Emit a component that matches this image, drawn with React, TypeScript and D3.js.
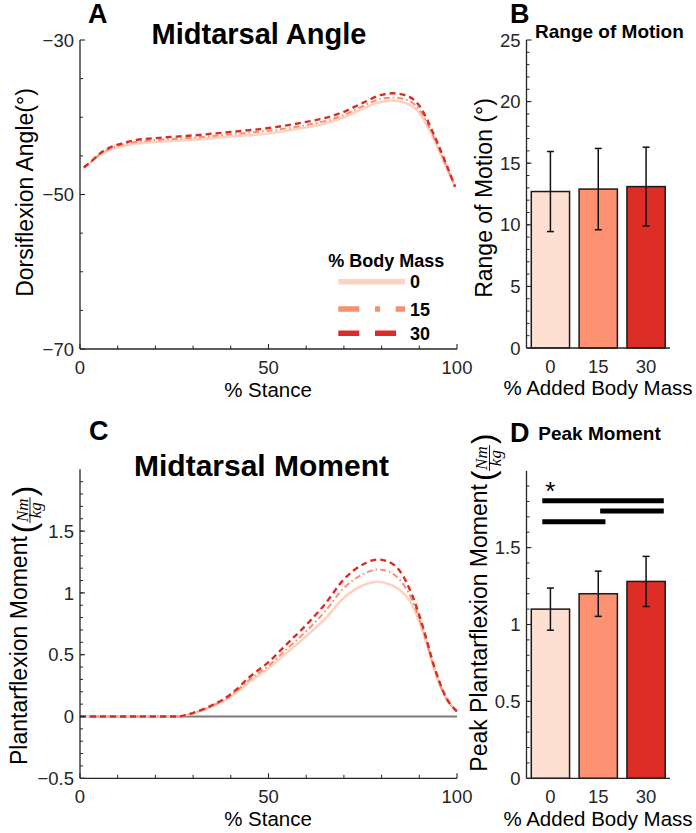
import React from 'react';
import * as d3 from 'd3';

// ---------------- Data ----------------
const massLevels = ['0', '15', '30'];
const lineColors = ['#fcd3c1', '#f8906f', '#d92d27'];
const barColors = ['#fee0d2', '#fc9272', '#de2d26'];

// Panel A: midtarsal angle (deg) vs % stance
const stanceAngle = [1, 3, 5, 8, 10, 15, 20, 30, 40, 50, 60, 65, 70, 75, 80, 83, 86, 90, 94, 97, 99.5];
const angle0 = [-46.5, -45.8, -45.0, -44.2, -43.9, -43.4, -43.2, -42.9, -42.5, -42.1, -41.3, -40.8, -40.0, -38.9, -38.0, -37.85, -38.1, -39.4, -43.0, -46.3, -49.0];
const angle15 = [-46.5, -45.75, -44.9, -44.05, -43.7, -43.2, -42.95, -42.65, -42.2, -41.75, -41.0, -40.5, -39.7, -38.55, -37.6, -37.45, -37.65, -39.0, -42.7, -46.1, -49.0];
const angle30 = [-46.5, -45.7, -44.8, -43.9, -43.55, -42.95, -42.7, -42.35, -41.9, -41.4, -40.6, -40.1, -39.3, -38.15, -37.1, -36.9, -37.1, -38.5, -42.4, -45.9, -49.0];

// Panel C: midtarsal moment (Nm/kg) vs % stance
const stanceMoment = [0, 10, 20, 26, 30, 35, 40, 45, 50, 55, 60, 65, 70, 75, 79, 82, 85, 88, 91, 94, 97, 100];
const moment0 = [0, 0, 0, 0, 0.025, 0.08, 0.16, 0.28, 0.39, 0.52, 0.65, 0.79, 0.96, 1.06, 1.09, 1.07, 1.02, 0.91, 0.68, 0.38, 0.15, 0.04];
const moment15 = [0, 0, 0, 0, 0.028, 0.085, 0.17, 0.3, 0.41, 0.55, 0.69, 0.85, 1.04, 1.15, 1.19, 1.17, 1.1, 0.95, 0.7, 0.39, 0.155, 0.04];
const moment30 = [0, 0, 0, 0, 0.03, 0.09, 0.18, 0.32, 0.44, 0.59, 0.74, 0.91, 1.11, 1.23, 1.27, 1.25, 1.17, 0.99, 0.72, 0.4, 0.16, 0.04];

// Panel B: range of motion (deg)
const romMean = [12.7, 12.9, 13.1];
const romSD = [3.25, 3.3, 3.2];

// Panel D: peak plantarflexion moment (Nm/kg)
const peakMean = [1.1, 1.2, 1.28];
const peakSD = [0.137, 0.147, 0.163];
// significance bars: [from group pos, to group pos, height]
const sigFrom = [0.83, 2.04, 0.83];
const sigTo = [3.37, 3.37, 2.15];
const sigLevel = [1.805, 1.738, 1.668];

// ticks
const stanceTicks = [0, 50, 100];
const stanceMinor = [10, 20, 30, 40, 60, 70, 80, 90];
const angleTicks = [-70, -50, -30];
const angleMinor = [-65, -60, -55, -45, -40, -35];
const romTicks = [0, 5, 10, 15, 20, 25];
const romMinor = d3.range(1, 25, 1);
const momentTicks = [-0.5, 0, 0.5, 1, 1.5];
const momentMinor = d3.range(-4, 20, 1).map((v) => v / 10);
const peakTicks = [0, 0.5, 1, 1.5];
const peakMinor = d3.range(1, 20, 1).map((v) => v / 10);

// ---------------- Styling ----------------
const FONT = '"Liberation Sans", Arial, Helvetica, sans-serif';
const MATH = '"Liberation Serif", "Times New Roman", serif';
const AX = '#262626';
const TICK_FS = 18.5;
const dashStyles = [undefined, '6,3,1.6,3', '6,4'];
const lineWidths = [2.6, 2, 2.4];
const legendDash = [undefined, '21,15.7,5,15.7', '21,15.7'];

const fmt = (v: number) => (v < 0 ? '\u2212' + String(Math.abs(v)) : String(v));

function YAxis({ scale, x, major, minor }: any) {
  const [y0, y1] = scale.range();
  return (
    <g>
      <line x1={x} x2={x} y1={y0} y2={y1} stroke={AX} strokeWidth={1.3} />
      {minor.map((v: number) => (
        <line key={'m' + v} x1={x} x2={x + 3} y1={scale(v)} y2={scale(v)} stroke={AX} strokeWidth={1} />
      ))}
      {major.map((v: number) => (
        <g key={'M' + v}>
          <line x1={x} x2={x + 5} y1={scale(v)} y2={scale(v)} stroke={AX} strokeWidth={1.1} />
          <text x={x - 6} y={scale(v)} dy="0.36em" textAnchor="end" fontSize={TICK_FS} fill={AX}>
            {fmt(v)}
          </text>
        </g>
      ))}
    </g>
  );
}

function XAxis({ scale, y, major, minor, x0, x1 }: any) {
  return (
    <g>
      <line x1={x0} x2={x1} y1={y} y2={y} stroke={AX} strokeWidth={1.3} />
      {minor.map((v: number) => (
        <line key={'m' + v} x1={scale(v)} x2={scale(v)} y1={y} y2={y - 3.5} stroke={AX} strokeWidth={1} />
      ))}
      {major.map((v: number) => (
        <g key={'M' + v}>
          <line x1={scale(v)} x2={scale(v)} y1={y} y2={y - 5} stroke={AX} strokeWidth={1.1} />
          <text x={scale(v)} y={y + 24.5} textAnchor="middle" fontSize={TICK_FS} fill={AX}>
            {v}
          </text>
        </g>
      ))}
    </g>
  );
}

function FracLabel({ x, y, text, textLen }: any) {
  // rotated label ending with (Nm / kg)
  const p = textLen;
  return (
    <g transform={`translate(${x},${y}) rotate(-90)`}>
      <text x={0} y={0} fontSize={23} fill="#000">{text}</text>
      <text x={p + 3} y={7.5} fontSize={31} fill="#000">(</text>
      <text x={p + 26} y={0.5} fontSize={17} fontStyle="italic" fontFamily={MATH} textAnchor="middle" fill="#000">Nm</text>
      <line x1={p + 13} x2={p + 39} y1={3} y2={3} stroke="#000" strokeWidth={0.9} />
      <text x={p + 26} y={14} fontSize={17} fontStyle="italic" fontFamily={MATH} textAnchor="middle" fill="#000">kg</text>
      <text x={p + 40} y={7.5} fontSize={31} fill="#000">)</text>
    </g>
  );
}

export default function App() {
  // ---- scales ----
  const xStance = d3.scaleLinear().domain([0, 100]).range([80, 457]);
  const yAngle = d3.scaleLinear().domain([-70, -30]).range([349, 40]);
  const yMoment = d3.scaleLinear().domain([-0.5, 2]).range([778.3, 469.3]);
  const xCat = d3.scaleLinear().domain([0.5, 3.5]).range([526.5, 670]);
  const yRom = d3.scaleLinear().domain([0, 25]).range([348, 40]);
  const yPeak = d3.scaleLinear().domain([0, 2]).range([778.3, 470.7]);
  const barW = (xCat(1.4) - xCat(0.6));

  const angleSeries = [angle0, angle15, angle30];
  const momentSeries = [moment0, moment15, moment30];

  const angleLine = (vals: number[]) =>
    d3.line<number>().x((_, i) => xStance(stanceAngle[i])).y((d) => yAngle(d)).curve(d3.curveMonotoneX)(vals) as string;
  const momentLine = (vals: number[]) =>
    d3.line<number>().x((_, i) => xStance(stanceMoment[i])).y((d) => yMoment(d)).curve(d3.curveMonotoneX)(vals) as string;

  const bars = (mean: number[], sd: number[], y: any) =>
    mean.map((m, i) => {
      const cx = xCat(i + 1);
      return (
        <g key={'bar' + i}>
          <rect x={cx - barW / 2} y={y(m)} width={barW} height={y(0) - y(m)} fill={barColors[i]} stroke="#1a1a1a" strokeWidth={1.5} />
          <line x1={cx} x2={cx} y1={y(m + sd[i])} y2={y(m - sd[i])} stroke="#111" strokeWidth={1.5} />
          <line x1={cx - 3.5} x2={cx + 3.5} y1={y(m + sd[i])} y2={y(m + sd[i])} stroke="#111" strokeWidth={1.5} />
          <line x1={cx - 3.5} x2={cx + 3.5} y1={y(m - sd[i])} y2={y(m - sd[i])} stroke="#111" strokeWidth={1.5} />
        </g>
      );
    });

  return (
    <svg width={696} height={833} style={{ position: 'absolute', left: 0, top: 0, background: '#fff' }} fontFamily={FONT}>
      <rect width={696} height={833} fill="#fff" />

      {/* ---------- Panel A ---------- */}
      <text x={88} y={22.7} fontSize={27} fontWeight="bold">A</text>
      <text x={259} y={44} fontSize={29} fontWeight="bold" textAnchor="middle">Midtarsal Angle</text>
      {angleSeries.map((s, i) => (
        <path key={'a' + i} d={angleLine(s)} fill="none" stroke={lineColors[i]} strokeWidth={lineWidths[i]} strokeDasharray={dashStyles[i]} />
      ))}
      <YAxis scale={yAngle} x={80} major={angleTicks} minor={angleMinor} />
      <XAxis scale={xStance} y={349} major={stanceTicks} minor={stanceMinor} x0={80} x1={457} />
      <text transform="translate(33,192.5) rotate(-90)" textAnchor="middle" fontSize={23}>Dorsiflexion Angle(°)</text>
      <text x={268} y={397} textAnchor="middle" fontSize={20.5}>% Stance</text>
      {/* legend */}
      <text x={328.3} y={266.7} fontSize={18} fontWeight="bold">% Body Mass</text>
      {massLevels.map((lv, i) => {
        const ly = [281.7, 309, 333.3][i];
        return (
          <g key={'lg' + i}>
            <line x1={338.3} x2={405} y1={ly} y2={ly} stroke={lineColors[i]} strokeWidth={5.5} strokeDasharray={legendDash[i]} />
            <text x={410} y={ly + 6.5} fontSize={18} fontWeight="bold">{lv}</text>
          </g>
        );
      })}

      {/* ---------- Panel B ---------- */}
      <text x={510} y={22.7} fontSize={27} fontWeight="bold">B</text>
      <text x={535} y={37.7} fontSize={19} fontWeight="bold">Range of Motion</text>
      {bars(romMean, romSD, yRom)}
      <YAxis scale={yRom} x={526.5} major={romTicks} minor={romMinor} />
      <line x1={526.5} x2={670} y1={348} y2={348} stroke={AX} strokeWidth={1.3} />
      {massLevels.map((lv, i) => (
        <text key={'bt' + i} x={xCat(i + 1)} y={372.5} textAnchor="middle" fontSize={TICK_FS} fill={AX}>{lv}</text>
      ))}
      <text transform="translate(491.5,198) rotate(-90)" textAnchor="middle" fontSize={23}>Range of Motion (°)</text>
      <text x={598} y={395} textAnchor="middle" fontSize={20.5}>% Added Body Mass</text>

      {/* ---------- Panel C ---------- */}
      <text x={89} y={440} fontSize={27} fontWeight="bold">C</text>
      <text x={261.5} y={476} fontSize={30} fontWeight="bold" textAnchor="middle">Midtarsal Moment</text>
      <line x1={xStance(0)} x2={xStance(100)} y1={yMoment(0)} y2={yMoment(0)} stroke="#7a7a7a" strokeWidth={2} />
      {momentSeries.map((s, i) => (
        <path key={'c' + i} d={momentLine(s)} fill="none" stroke={lineColors[i]} strokeWidth={lineWidths[i]} strokeDasharray={dashStyles[i]} />
      ))}
      <YAxis scale={yMoment} x={80} major={momentTicks} minor={momentMinor} />
      <XAxis scale={xStance} y={778.3} major={stanceTicks} minor={stanceMinor} x0={80} x1={457} />
      <FracLabel x={27} y={765} text="Plantarflexion Moment" textLen={228.8} />
      <text x={268} y={826} textAnchor="middle" fontSize={20.5}>% Stance</text>

      {/* ---------- Panel D ---------- */}
      <text x={510} y={441.7} fontSize={27} fontWeight="bold">D</text>
      <text x={538.3} y={440} fontSize={19} fontWeight="bold">Peak Moment</text>
      {bars(peakMean, peakSD, yPeak)}
      <YAxis scale={yPeak} x={526.5} major={peakTicks} minor={peakMinor} />
      <line x1={526.5} x2={670} y1={778.3} y2={778.3} stroke={AX} strokeWidth={1.3} />
      {massLevels.map((lv, i) => (
        <text key={'dt' + i} x={xCat(i + 1)} y={802.5} textAnchor="middle" fontSize={TICK_FS} fill={AX}>{lv}</text>
      ))}
      {sigLevel.map((lvl, i) => (
        <line key={'sig' + i} x1={xCat(sigFrom[i])} x2={xCat(sigTo[i])} y1={yPeak(lvl)} y2={yPeak(lvl)} stroke="#000" strokeWidth={5} />
      ))}
      <text x={xCat(1)} y={500} textAnchor="middle" fontSize={26}>*</text>
      <FracLabel x={486.5} y={771.7} text="Peak Plantarflexion Moment" textLen={287.6} />
      <text x={598} y={826} textAnchor="middle" fontSize={20.5}>% Added Body Mass</text>
    </svg>
  );
}
